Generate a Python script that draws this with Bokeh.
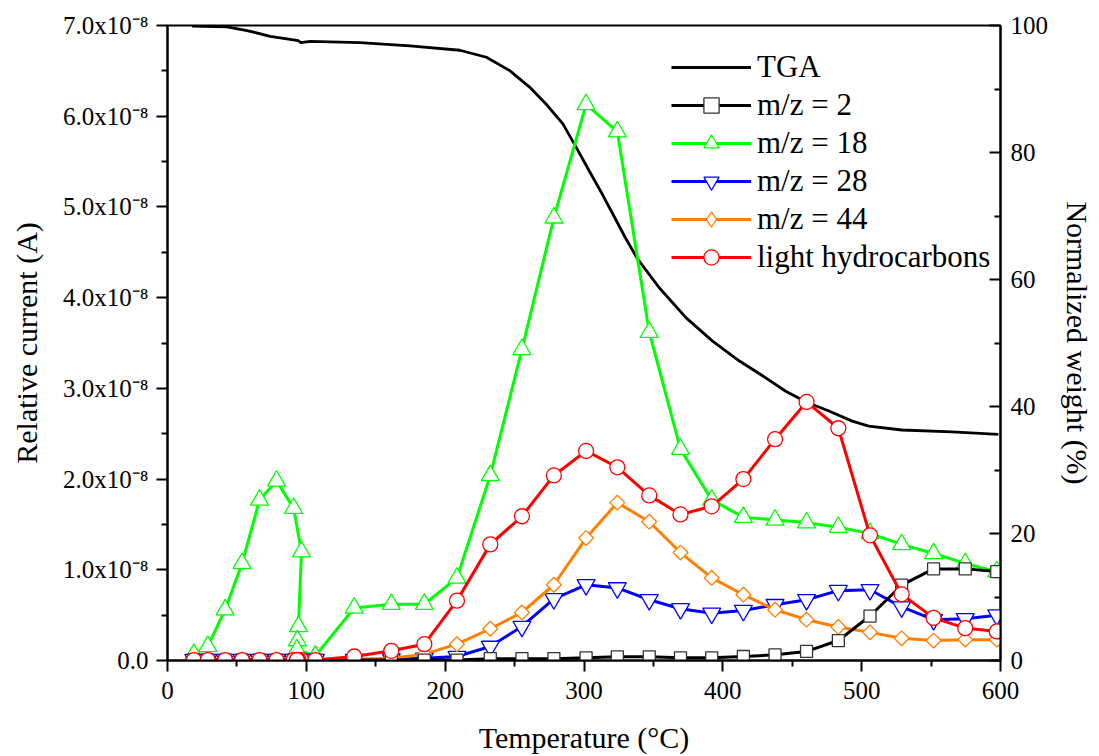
from bokeh.plotting import figure
from bokeh.models import LinearAxis, Range1d, FixedTicker, Legend, LegendItem
from bokeh.embed import file_html
from bokeh.resources import INLINE
import math

# Temperature (°C) of the mass-spec samples
temperature = [19, 29, 41.5, 53.7, 66.3, 78.5, 90.8, 96.5, 94.3, 93.6, 93.2, 106.5,
               134.5, 161.2, 185, 208.5, 232.5, 255.3, 278.3, 301.5, 324, 347, 369.5,
               392, 414.8, 437.6, 460.3, 483.2, 506, 528.8, 551.8, 574.6, 597.3]

# Relative current in units of 1e-8 A
mz2 = [0.005, 0.005, 0.005, 0.005, 0.005, 0.005, 0.005, 0.005, 0.005, 0.005, 0.005, 0.005,
       0.005, 0.005, 0.005, 0.005, 0.02, 0.02, 0.02, 0.03, 0.04, 0.04, 0.03,
       0.03, 0.044, 0.063, 0.10, 0.22, 0.49, 0.83, 1.01, 1.01, 0.98]
mz18 = [0.07, 0.155, 0.56, 1.07, 1.77, 1.98, 1.68, 1.20, 0.375, 0.22, 0.12, 0.05,
        0.58, 0.62, 0.62, 0.91, 2.04, 3.43, 4.88, 6.13, 5.83, 3.62, 2.33,
        1.77, 1.58, 1.55, 1.52, 1.47, 1.40, 1.28, 1.18, 1.07, 0.98]
mz28 = [0.01, 0.01, 0.01, 0.01, 0.01, 0.01, 0.01, 0.01, 0.01, 0.01, 0.01, 0.01,
        0.01, 0.015, 0.025, 0.044, 0.155, 0.375, 0.68, 0.835, 0.80, 0.67, 0.57,
        0.52, 0.55, 0.615, 0.67, 0.77, 0.78, 0.59, 0.45, 0.46, 0.50]
mz44 = [0.01, 0.01, 0.01, 0.01, 0.01, 0.01, 0.01, 0.01, 0.01, 0.01, 0.01, 0.01,
        0.015, 0.025, 0.07, 0.18, 0.35, 0.53, 0.835, 1.35, 1.74, 1.53, 1.19,
        0.91, 0.725, 0.56, 0.45, 0.37, 0.31, 0.245, 0.22, 0.23, 0.23]
light_hc = [0.005, 0.005, 0.005, 0.005, 0.005, 0.005, 0.005, 0.005, 0.005, 0.005, 0.005, 0.005,
            0.044, 0.107, 0.18, 0.66, 1.28, 1.59, 2.04, 2.31, 2.13, 1.82, 1.61,
            1.70, 2.0, 2.44, 2.85, 2.56, 1.38, 0.73, 0.47, 0.357, 0.32]

# TGA curve: normalized weight (%)
tga_temperature = [17.7, 42.9, 57.3, 74, 94.3, 96, 102.8, 138.7, 174.6, 210.5, 229.7,
                   246.5, 260.8, 272.8, 284.8, 294.4, 304, 313.5, 322, 330, 338.7,
                   354.2, 373.4, 392.6, 411.7, 426.1, 445.3, 460, 476.4, 493.2, 505.1,
                   529, 565, 598.5]
tga_weight = [99.9, 99.8, 99.2, 98.3, 97.6, 97.3, 97.5, 97.3, 96.8, 96.1, 95.0,
              92.9, 90.3, 87.6, 84.5, 80.8, 77.0, 73.3, 69.8, 66.5, 63.2,
              58.7, 54.0, 50.3, 47.2, 45.2, 42.4, 40.7, 39.3, 37.7, 36.9,
              36.3, 36.0, 35.6]

x_ticks = [0, 100, 200, 300, 400, 500, 600]
left_ticks = [0, 1, 2, 3, 4, 5, 6, 7]
left_tick_labels = ["0.0", "1.0x10\u207b\u2078", "2.0x10\u207b\u2078", "3.0x10\u207b\u2078",
                    "4.0x10\u207b\u2078", "5.0x10\u207b\u2078", "6.0x10\u207b\u2078",
                    "7.0x10\u207b\u2078"]
right_ticks = [0, 20, 40, 60, 80, 100]

FONT = "'Liberation Serif', 'Times New Roman', serif"

p = figure(width=1099, height=756, x_range=Range1d(0, 600), y_range=Range1d(0, 7),
           output_backend="svg", toolbar_location=None,
           min_border_left=167, min_border_right=99, min_border_top=25, min_border_bottom=96)
p.extra_y_ranges = {"w": Range1d(0, 100)}
p.xgrid.visible = False
p.ygrid.visible = False
p.outline_line_color = "black"
p.outline_line_width = 2
p.background_fill_color = "white"
p.border_fill_color = "white"

def style_axis(ax, inward=False):
    ax.axis_line_width = 2
    ax.axis_line_color = "black"
    ax.major_tick_line_width = 2
    ax.minor_tick_line_width = 2
    if inward:
        ax.major_tick_in = 11
        ax.major_tick_out = 0
        ax.minor_tick_in = 6
        ax.minor_tick_out = 0
    else:
        ax.major_tick_in = 0
        ax.major_tick_out = 11
        ax.minor_tick_in = 0
        ax.minor_tick_out = 6
    ax.major_label_text_font = FONT
    ax.major_label_text_font_size = "25px"
    ax.major_label_text_color = "black"
    ax.axis_label_text_font = FONT
    ax.axis_label_text_font_size = "30px"
    ax.axis_label_text_font_style = "normal"
    ax.axis_label_text_color = "black"

xa = p.xaxis[0]
xa.ticker = FixedTicker(ticks=x_ticks, minor_ticks=[50, 150, 250, 350, 450, 550])
xa.axis_label = "Temperature (\u00b0C)"
style_axis(xa)
xa.major_label_standoff = 10
xa.axis_label_standoff = 19

ya = p.yaxis[0]
ya.ticker = FixedTicker(ticks=left_ticks, minor_ticks=[0.5, 1.5, 2.5, 3.5, 4.5, 5.5, 6.5])
ya.major_label_overrides = {t: l for t, l in zip(left_ticks, left_tick_labels)}
ya.axis_label = "Relative current (A)"
style_axis(ya)
ya.major_label_standoff = 8
ya.axis_label_standoff = 17

ra = LinearAxis(y_range_name="w", axis_label="Normalized weight (%)")
ra.ticker = FixedTicker(ticks=right_ticks, minor_ticks=[10, 30, 50, 70, 90])
style_axis(ra, inward=True)
ra.major_label_standoff = 10
ra.axis_label_standoff = 10
p.add_layout(ra, "right")

# TGA curve
tga_r = p.line(tga_temperature, tga_weight, y_range_name="w", line_color="black", line_width=2.8)

series = [
    ("m/z = 2", mz2, "black", "square", 12, 0),
    ("m/z = 18", mz18, "#00ff00", "triangle", 18, 0),
    ("m/z = 28", mz28, "#0000ff", "inverted_triangle", 18, 0),
    ("m/z = 44", mz44, "#ff8000", "square", 10.5, math.pi / 4),
    ("light hydrocarbons", light_hc, "#ff0000", "circle", 15, 0),
]
draw_order = [1, 2, 3, 0, 4]
items = {}
for i in draw_order:
    name, vals, col, mk, sz, ang = series[i]
    mline = "#333333" if col == "black" else col
    r1 = p.line(temperature, vals, line_color=col, line_width=3)
    legend_marker = None
    if ang != 0:
        # diamond used for the legend glyph (legend glyphs ignore marker angle);
        # drawn under the rotated squares so it stays hidden in the plot
        legend_marker = p.scatter(temperature, vals, marker="diamond", size=13,
                                  fill_color="white", line_color=mline, line_width=1.3)
    r2 = p.scatter(temperature, vals, marker=mk, size=sz, angle=ang, fill_color="white",
                   line_color=mline, line_width=1.3)
    items[i] = LegendItem(label=name, renderers=[r1, legend_marker if legend_marker is not None else r2])

legend = Legend(items=[LegendItem(label="TGA", renderers=[tga_r])] + [items[i] for i in range(5)],
                location=(504, 384))
legend.label_text_font = FONT
legend.label_text_font_size = "31px"
legend.label_text_color = "black"
legend.glyph_width = 80
legend.glyph_height = 38
legend.label_height = 38
legend.spacing = 0
legend.padding = 4
legend.margin = 0
legend.label_standoff = 6
legend.border_line_color = None
legend.background_fill_alpha = 0
p.add_layout(legend, "center")

open("out.html", "w").write(file_html(p, INLINE))
